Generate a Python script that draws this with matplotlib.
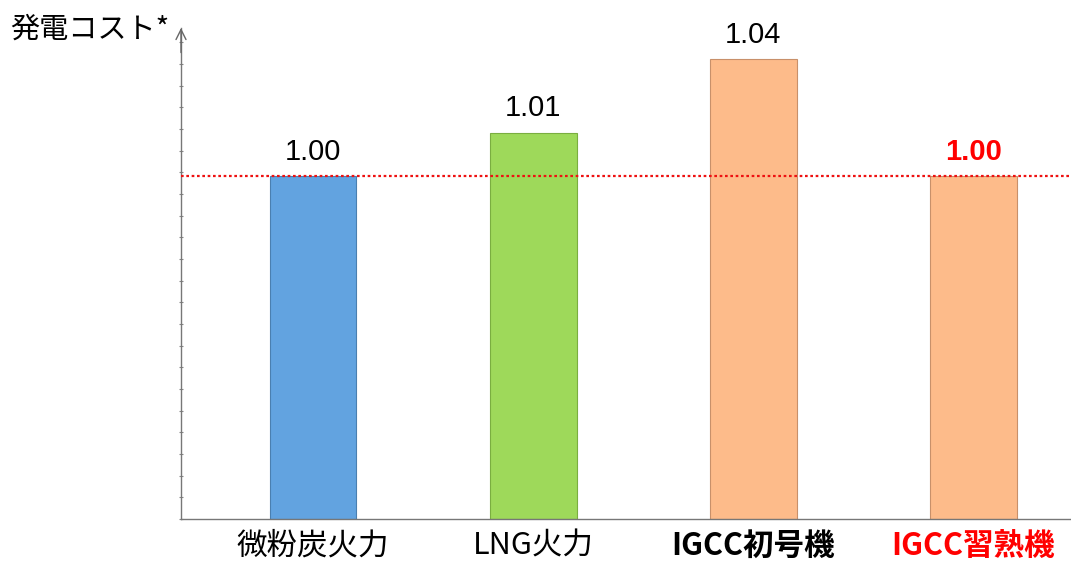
import matplotlib.pyplot as plt
import numpy as np

plt.rcParams['font.family'] = ['Liberation Sans', 'Noto Sans CJK JP', 'DejaVu Sans']

# data
categories = ["微粉炭火力", "LNG火力", "IGCC初号機", "IGCC習熟機"]
heights = [1.00, 1.015, 1.04, 1.00]
value_labels = ["1.00", "1.01", "1.04", "1.00"]
bar_colors = ["#62a3e0", "#9ed95a", "#fdbb8a", "#fdbb8a"]
edge_colors = ["#4a7fb0", "#7aae40", "#c8906a", "#c8906a"]
label_colors = ["black", "black", "black", "red"]
label_bold = [False, False, True, True]
baseline = 1.00
y_bottom, y_top = 0.883, 1.0507

fig = plt.figure(figsize=(10.71, 5.62), dpi=100)
ax = fig.add_axes([181 / 1071, 1 - 519 / 562, (1070 - 181) / 1071, (519 - 28) / 562])

x = np.arange(len(categories))
ax.bar(x, np.array(heights) - y_bottom, bottom=y_bottom, width=0.395,
       color=bar_colors, edgecolor=edge_colors, linewidth=0.8, zorder=2)

ax.axhline(baseline, color="#ee1111", linestyle=(0, (1.2, 1.2)), linewidth=1.6, zorder=3)

for xi, h, lab, c in zip(x, heights, value_labels, label_colors):
    ax.text(xi, h + 0.0035, lab, ha="center", va="bottom", fontsize=21,
            color=c, fontweight="bold" if c == "red" else "normal")

ax.set_xlim(-0.6, 3.44)
ax.set_ylim(y_bottom, y_top)

ax.set_xticks(x)
ax.set_xticklabels(categories)
for t, c, b in zip(ax.get_xticklabels(), label_colors, label_bold):
    t.set_family(['Noto Sans CJK JP', 'DejaVu Sans'])
    t.set_fontsize(22)
    t.set_color(c)
    t.set_fontweight("bold" if b else "normal")
ax.tick_params(axis="x", length=0, pad=8)

ax.set_yticks(np.arange(y_bottom, y_top, 0.0074))
ax.set_yticklabels([])
ax.tick_params(axis="y", length=3, direction="inout", color="#888888", width=0.8)

for s in ["top", "right"]:
    ax.spines[s].set_visible(False)
for s in ["left", "bottom"]:
    ax.spines[s].set_color("#777777")
    ax.spines[s].set_linewidth(1.0)

ax.annotate("", xy=(0, 1.0), xytext=(0, 0.95), xycoords="axes fraction",
            arrowprops=dict(arrowstyle="->", color="#666666", lw=1.0,
                            mutation_scale=18, shrinkA=0, shrinkB=0))

fig.text(10 / 1071, 1 - 30 / 562, "発電コスト*", fontsize=21, va="center", ha="left",
         family=['Noto Sans CJK JP', 'DejaVu Sans'])

fig.savefig("out.png", dpi=100)
